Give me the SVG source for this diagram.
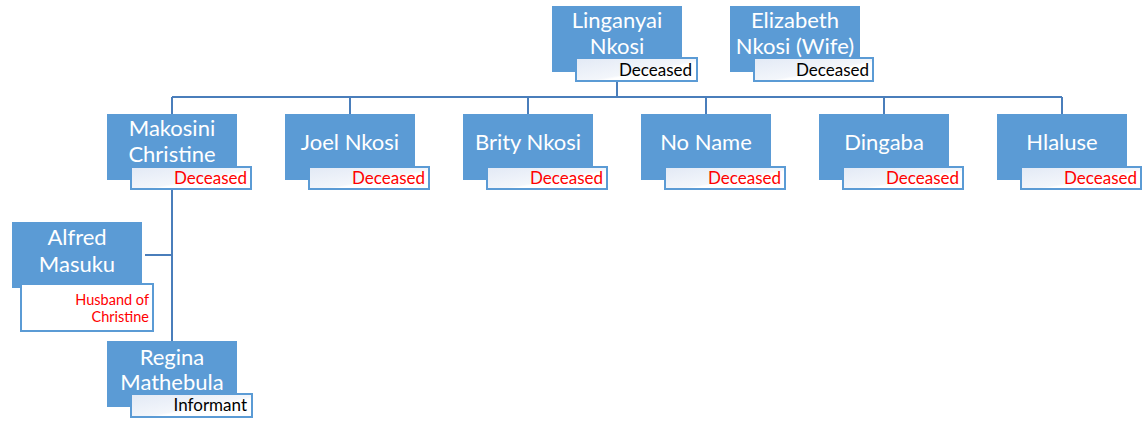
<svg xmlns="http://www.w3.org/2000/svg" width="1146" height="422" viewBox="0 0 1146 422">
<defs>
<linearGradient id="lg" x1="0" y1="0" x2="1" y2="1">
<stop offset="0" stop-color="#e2e9f5"/>
<stop offset="0.55" stop-color="#f3f6fb"/>
<stop offset="0.6" stop-color="#ffffff"/>
</linearGradient>
<style>
.box{fill:#5b9bd5;}
.lab{fill:url(#lg);stroke:#5b9bd5;stroke-width:2;}
.name{font-family:Lato,"Liberation Sans",sans-serif;font-size:22px;fill:#ffffff;text-anchor:middle;}
.t{font-family:Lato,"Liberation Sans",sans-serif;font-size:17px;text-anchor:end;}
.red{fill:#ff0000;}
.blk{fill:#000000;}
.small{font-family:Lato,"Liberation Sans",sans-serif;font-size:14.5px;text-anchor:end;fill:#ff0000;}
.c{fill:none;stroke:#4a7ebb;stroke-width:2;}
</style>
</defs>
<rect width="1146" height="422" fill="#ffffff"/>
<g id="connectors">
<path class="c" d="M617 80 V97 M172 97 H1062 M172 97 V114 M350 97 V114 M528 97 V114 M706 97 V114 M884 97 V114 M1062 97 V114"/>
<path class="c" d="M172 189 V341 M145 255 H172"/>
</g>
<g id="linganyai">
<rect class="box" x="552" y="6" width="130" height="66"/>
<rect class="lab" x="576" y="58" width="121" height="23"/>
<text class="name" x="617" y="28">Linganyai</text>
<text class="name" x="617" y="54">Nkosi</text>
<text class="t blk" x="692" y="76">Deceased</text>
</g>
<g id="elizabeth">
<rect class="box" x="730" y="6" width="130" height="66"/>
<rect class="lab" x="754" y="58" width="119" height="23"/>
<text class="name" x="795" y="28">Elizabeth</text>
<text class="name" x="795" y="54">Nkosi (Wife)</text>
<text class="t blk" x="869" y="76">Deceased</text>
</g>
<g id="makosini">
<rect class="box" x="107" y="114" width="130" height="66"/>
<rect class="lab" x="131" y="167" width="120" height="22"/>
<text class="name" x="172" y="136">Makosini</text>
<text class="name" x="172" y="162">Christine</text>
<text class="t red" x="247" y="184">Deceased</text>
</g>
<g id="joel">
<rect class="box" x="285" y="114" width="130" height="66"/>
<rect class="lab" x="309" y="167" width="120" height="22"/>
<text class="name" x="350" y="150">Joel Nkosi</text>
<text class="t red" x="425" y="184">Deceased</text>
</g>
<g id="brity">
<rect class="box" x="463" y="114" width="130" height="66"/>
<rect class="lab" x="487" y="167" width="120" height="22"/>
<text class="name" x="528" y="150">Brity Nkosi</text>
<text class="t red" x="603" y="184">Deceased</text>
</g>
<g id="noname">
<rect class="box" x="641" y="114" width="130" height="66"/>
<rect class="lab" x="665" y="167" width="120" height="22"/>
<text class="name" x="706" y="150">No Name</text>
<text class="t red" x="781" y="184">Deceased</text>
</g>
<g id="dingaba">
<rect class="box" x="819" y="114" width="130" height="66"/>
<rect class="lab" x="843" y="167" width="120" height="22"/>
<text class="name" x="884" y="150">Dingaba</text>
<text class="t red" x="959" y="184">Deceased</text>
</g>
<g id="hlaluse">
<rect class="box" x="997" y="114" width="130" height="66"/>
<rect class="lab" x="1021" y="167" width="120" height="22"/>
<text class="name" x="1062" y="150">Hlaluse</text>
<text class="t red" x="1137" y="184">Deceased</text>
</g>
<g id="alfred">
<rect class="box" x="12" y="222" width="130" height="66"/>
<rect class="lab" x="21" y="284" width="132" height="47" style="fill:#ffffff"/>
<text class="name" x="77" y="245">Alfred</text>
<text class="name" x="77" y="272">Masuku</text>
<text class="small" x="149" y="305">Husband of</text>
<text class="small" x="149" y="322">Christine</text>
</g>
<g id="regina">
<rect class="box" x="107" y="341" width="130" height="66"/>
<rect class="lab" x="131" y="394" width="121" height="23"/>
<text class="name" x="172" y="365">Regina</text>
<text class="name" x="172" y="390">Mathebula</text>
<text class="t blk" x="247" y="411">Informant</text>
</g>
</svg>
